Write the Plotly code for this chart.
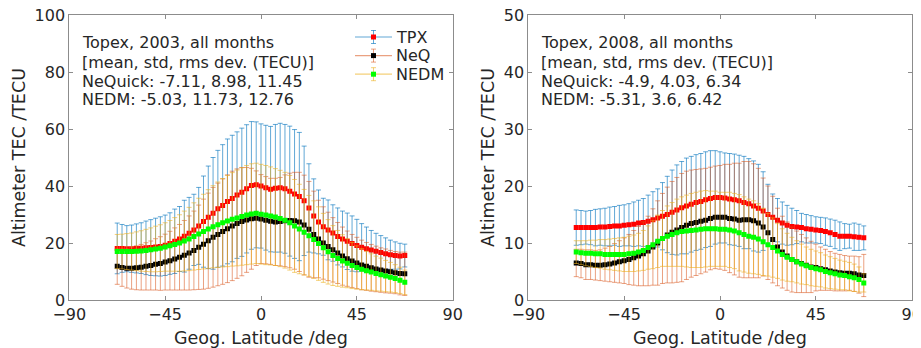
import plotly.graph_objects as go

# Latitude grid (deg)
lat = [-67.5, -65.25, -63, -60.75, -58.5, -56.25, -54, -51.75, -49.5, -47.25,
       -45, -42.75, -40.5, -38.25, -36, -33.75, -31.5, -29.25, -27, -24.75,
       -22.5, -20.25, -18, -15.75, -13.5, -11.25, -9, -6.75, -4.5, -2.25,
       0, 2.25, 4.5, 6.75, 9, 11.25, 13.5, 15.75, 18, 20.25,
       22.5, 24.75, 27, 29.25, 31.5, 33.75, 36, 38.25, 40.5, 42.75,
       45, 47.25, 49.5, 51.75, 54, 56.25, 58.5, 60.75, 63, 65.25, 67.5]

# ---------- 2003 ----------
tpx03_mean = [18.1, 18.1, 18.0, 18.0, 18.1, 18.2, 18.3, 18.4, 18.6, 18.8,
              19.2, 19.8, 20.6, 21.4, 22.4, 23.4, 24.6, 26.0, 27.5, 29.0,
              30.4, 32.0, 33.2, 34.6, 35.6, 36.8, 37.8, 39.0, 40.2, 40.4,
              40.0, 39.4, 38.9, 39.2, 39.4, 39.0, 38.2, 37.2, 36.3, 34.8,
              32.3, 29.5, 27.4, 25.7, 24.6, 23.5, 22.3, 21.4, 20.6, 19.8,
              19.1, 18.5, 18.0, 17.5, 17.1, 16.7, 16.2, 15.9, 15.6, 15.4, 15.6]
tpx03_std = [8.9, 8.4, 8.1, 8.3, 8.6, 8.9, 9.4, 9.8, 10.1, 10.4,
             10.6, 10.8, 11.3, 11.4, 12.6, 12.6, 12.5, 13.5, 16.0, 18.0,
             19.6, 20.5, 21.3, 21.9, 22.2, 22.2, 22.5, 22.5, 22.4, 22.1,
             21.8, 21.9, 22.0, 22.4, 22.6, 22.6, 22.8, 22.6, 22.5, 19.2,
             15.5, 13.0, 11.2, 10.0, 10.5, 9.9, 10.0, 9.8, 9.9, 9.7,
             9.2, 8.3, 7.6, 6.9, 6.3, 5.9, 5.6, 5.1, 4.8, 4.5, 4.0]
neq03_mean = [11.8, 11.4, 11.1, 11.1, 11.3, 11.5, 11.8, 12.1, 12.5, 12.8,
              13.3, 13.8, 14.4, 15.0, 15.7, 16.5, 17.4, 18.5, 19.6, 20.8,
              22.0, 23.0, 24.0, 25.0, 26.0, 26.8, 27.5, 28.1, 28.5, 28.7,
              28.4, 28.0, 27.6, 27.4, 27.5, 27.8, 27.9, 27.8, 27.4, 26.3,
              24.8, 23.0, 21.4, 20.0, 18.8, 17.6, 16.5, 15.4, 14.5, 13.7,
              13.0, 12.3, 11.8, 11.3, 10.9, 10.5, 10.2, 9.9, 9.6, 9.3, 9.2]
neq03_std = [6.3, 6.6, 6.9, 7.3, 7.7, 8.0, 8.3, 8.6, 9.0, 9.4,
             9.8, 10.3, 10.9, 11.5, 12.2, 13.0, 13.8, 14.8, 15.8, 16.7,
             17.5, 18.0, 18.5, 18.9, 19.2, 19.2, 19.0, 18.4, 17.7, 16.6,
             15.6, 15.3, 15.1, 15.3, 15.5, 16.1, 16.6, 17.0, 17.4, 17.5,
             16.8, 15.2, 13.6, 12.7, 12.0, 11.3, 10.7, 10.2, 9.7, 9.3,
             9.0, 8.7, 8.4, 8.2, 8.0, 7.8, 7.7, 7.5, 7.4, 7.5, 7.6]
nedm03_mean = [17.0, 17.0, 17.0, 17.0, 17.1, 17.2, 17.4, 17.6, 17.9, 18.2,
               18.6, 19.0, 19.5, 20.0, 20.7, 21.4, 22.3, 23.2, 24.0, 24.9,
               25.7, 26.4, 27.1, 27.7, 28.3, 28.8, 29.3, 29.8, 30.2, 30.4,
               30.1, 29.8, 29.5, 29.1, 28.6, 28.0, 27.1, 26.0, 24.9, 23.8,
               22.5, 21.2, 19.8, 18.3, 16.9, 15.6, 14.6, 13.7, 12.9, 12.1,
               11.4, 10.8, 10.3, 9.8, 9.3, 8.9, 8.4, 8.0, 7.5, 6.9, 6.2]
nedm03_std = [6.0, 6.1, 6.3, 6.5, 6.8, 7.1, 7.4, 7.7, 8.0, 8.2,
              8.5, 8.9, 9.4, 9.9, 10.5, 11.1, 11.8, 12.5, 13.1, 13.8,
              14.4, 15.0, 15.5, 16.0, 16.4, 16.8, 17.1, 17.4, 17.6, 17.6,
              17.5, 17.4, 17.2, 17.0, 16.9, 16.8, 16.6, 16.3, 15.7, 15.0,
              14.2, 13.6, 12.9, 12.1, 11.3, 10.5, 9.8, 9.2, 8.6, 8.1,
              7.6, 7.2, 6.8, 6.4, 6.1, 5.8, 5.5, 5.2, 4.9, 4.6, 4.3]

# ---------- 2008 ----------
tpx08_mean = [12.7, 12.7, 12.7, 12.7, 12.7, 12.8, 12.8, 12.9, 13.0, 13.0,
              13.1, 13.2, 13.3, 13.5, 13.6, 13.8, 14.1, 14.4, 14.7, 15.0,
              15.4, 15.8, 16.2, 16.5, 16.8, 17.1, 17.3, 17.6, 17.8, 18.0,
              18.0, 17.9, 17.7, 17.6, 17.4, 17.1, 16.9, 16.5, 16.1, 15.6,
              15.0, 14.5, 14.0, 13.5, 13.1, 12.9, 12.8, 12.7, 12.5, 12.4,
              12.3, 12.2, 12.0, 11.8, 11.5, 11.2, 11.2, 11.2, 11.1, 11.0, 10.9]
tpx08_std = [3.1, 3.0, 2.9, 3.0, 3.2, 3.2, 3.3, 3.4, 3.4, 3.6,
             3.6, 3.7, 3.9, 4.0, 4.2, 4.6, 4.9, 5.1, 5.9, 6.7,
             7.4, 7.9, 8.1, 8.4, 8.4, 8.4, 8.4, 8.4, 8.4, 8.2,
             8.0, 7.9, 8.0, 8.0, 8.0, 8.1, 7.9, 7.9, 7.7, 6.9,
             5.3, 4.1, 3.8, 3.7, 3.5, 3.2, 2.9, 2.5, 2.5, 2.4,
             2.3, 2.3, 2.4, 2.4, 2.5, 2.5, 2.2, 2.1, 2.4, 2.3, 2.1]
neq08_mean = [6.5, 6.4, 6.2, 6.2, 6.1, 6.1, 6.2, 6.3, 6.5, 6.7,
              6.9, 7.1, 7.4, 7.7, 8.1, 8.6, 9.3, 10.0, 10.8, 11.4,
              11.9, 12.3, 12.7, 13.1, 13.4, 13.6, 13.8, 14.0, 14.3, 14.5,
              14.5, 14.5, 14.3, 14.2, 14.0, 14.1, 14.1, 13.9, 13.5, 12.8,
              11.8, 10.6, 9.3, 8.4, 7.7, 7.1, 6.7, 6.4, 6.1, 5.8,
              5.7, 5.5, 5.3, 5.1, 4.9, 4.8, 4.7, 4.7, 4.6, 4.4, 4.3]
neq08_std = [2.4, 2.5, 2.6, 2.6, 2.6, 2.7, 2.9, 3.1, 3.4, 3.7,
             4.0, 4.4, 4.8, 5.2, 5.6, 6.1, 6.7, 7.4, 7.9, 8.4,
             8.9, 9.2, 9.5, 9.5, 9.4, 9.3, 9.2, 9.1, 9.0, 9.0,
             9.1, 9.3, 9.5, 9.8, 10.0, 10.2, 10.2, 10.0, 9.6, 8.6,
             8.2, 7.6, 6.8, 6.3, 6.0, 5.7, 5.4, 5.1, 4.8, 4.5,
             4.1, 3.8, 3.6, 3.4, 3.3, 3.2, 3.1, 3.0, 3.1, 3.2, 3.7]
nedm08_mean = [8.4, 8.3, 8.2, 8.2, 8.1, 8.1, 8.0, 8.0, 8.0, 8.0,
               8.0, 8.1, 8.2, 8.4, 8.7, 9.2, 9.7, 10.3, 10.8, 11.2,
               11.5, 11.8, 12.0, 12.1, 12.2, 12.3, 12.4, 12.5, 12.5, 12.5,
               12.4, 12.4, 12.3, 12.1, 11.8, 11.5, 11.2, 11.0, 10.7, 10.2,
               9.7, 9.2, 8.6, 8.0, 7.5, 7.1, 6.7, 6.3, 6.0, 5.7,
               5.5, 5.3, 5.0, 4.8, 4.6, 4.4, 4.3, 4.1, 3.9, 3.6, 3.0]
nedm08_std = [2.0, 2.1, 2.2, 2.3, 2.4, 2.5, 2.6, 2.7, 2.8, 2.9,
              3.0, 3.1, 3.2, 3.3, 3.5, 3.8, 4.2, 4.6, 4.9, 5.3,
              5.6, 5.9, 6.1, 6.3, 6.5, 6.6, 6.7, 6.7, 6.6, 6.6,
              6.5, 6.5, 6.6, 6.6, 6.7, 6.6, 6.5, 6.4, 6.2, 5.9,
              5.5, 5.2, 4.8, 4.5, 4.2, 3.9, 3.7, 3.5, 3.3, 3.2,
              3.1, 3.0, 2.9, 2.8, 2.7, 2.6, 2.5, 2.5, 2.4, 2.2, 1.6]

series_names = ["TPX", "NeQ", "NEDM"]
bar_colors = ["rgba(0,114,189,0.62)", "rgba(217,83,25,0.55)", "rgba(237,177,32,0.6)"]
marker_colors = ["#ff0000", "#000000", "#00ff00"]

panels = [
    dict(means=[tpx03_mean, neq03_mean, nedm03_mean], stds=[tpx03_std, neq03_std, nedm03_std],
         xa="x", ya="y",
         text=["Topex, 2003, all months", "[mean, std, rms dev. (TECU)]",
               "NeQuick: -7.11, 8.98, 11.45", "NEDM: -5.03, 11.73, 12.76"]),
    dict(means=[tpx08_mean, neq08_mean, nedm08_mean], stds=[tpx08_std, neq08_std, nedm08_std],
         xa="x2", ya="y2",
         text=["Topex, 2008, all months", "[mean, std, rms dev. (TECU)]",
               "NeQuick: -4.9, 4.03, 6.34", "NEDM: -5.31, 3.6, 6.42"]),
]

FONT = "DejaVu Sans"
TXT = "#262626"
AX = "#8c8c8c"

fig = go.Figure()
for p in panels:
    for k in range(3):
        fig.add_trace(go.Scatter(
            x=lat, y=p["means"][k], mode="markers", xaxis=p["xa"], yaxis=p["ya"],
            marker=dict(symbol="square", size=5, color=marker_colors[k], line=dict(width=0)),
            error_y=dict(type="data", array=p["stds"][k], visible=True,
                         color=bar_colors[k], thickness=1, width=2.5),
            showlegend=False, name=series_names[k], hoverinfo="skip"))

# The page body has an 8px margin; the figure is sized/placed to compensate.
OFF = 8
W, H = 921 - OFF, 348 - OFF
def px(x):  # screen x -> paper
    return (x - OFF) / W
def py(y):  # screen y -> paper
    return 1 - (y - OFF) / H

axis_common = dict(showline=True, linecolor=AX, linewidth=1, mirror="ticks",
                   ticks="inside", ticklen=4, tickcolor=AX, showgrid=False, zeroline=False,
                   automargin=False, ticklabeloverflow="allow",
                   tickfont=dict(family=FONT, size=16, color=TXT))

fig.update_layout(
    template="none",
    width=W, height=H, margin=dict(l=0, r=0, t=0, b=0, pad=0),
    paper_bgcolor="white", plot_bgcolor="white",
    font=dict(family=FONT, color=TXT),
    showlegend=False,
    xaxis=dict(domain=[px(69.3), px(452.7)], range=[-90, 90], tickvals=[-90, -45, 0, 45, 90],
               anchor="y", **axis_common),
    yaxis=dict(domain=[py(300), py(15)], range=[0, 100], tickvals=[0, 20, 40, 60, 80, 100],
               anchor="x", **axis_common),
    xaxis2=dict(domain=[px(528.3), px(911.7)], range=[-90, 90], tickvals=[-90, -45, 0, 45, 90],
                anchor="y2", **axis_common),
    yaxis2=dict(domain=[py(300), py(15)], range=[0, 50], tickvals=[0, 10, 20, 30, 40, 50],
                anchor="x2", **axis_common),
)

anns = []
shapes = []
for p, x0, xc, yt_x in [(panels[0], 80, 261, 19), (panels[1], 539, 720, 488)]:
    for i, t in enumerate(p["text"]):
        anns.append(dict(text=t, x=px(x0), y=py(43 + 19 * i), xref="paper", yref="paper",
                         xanchor="left", yanchor="middle", showarrow=False,
                         font=dict(family=FONT, size=16, color=TXT)))
    anns.append(dict(text="Geog. Latitude /deg", x=px(xc), y=py(338), xref="paper", yref="paper",
                     xanchor="center", yanchor="middle", showarrow=False,
                     font=dict(family=FONT, size=17.5, color=TXT)))
    anns.append(dict(text="Altimeter TEC /TECU", x=px(yt_x), y=py(158), xref="paper", yref="paper",
                     xanchor="center", yanchor="middle", showarrow=False, textangle=-90,
                     font=dict(family=FONT, size=17.5, color=TXT)))

# legend (error-bar style symbols), top right of the left panel
for k, name in enumerate(series_names):
    yc = 37 + 18.6 * k
    xl, xr, xm = 355, 392, 373.5
    shapes.append(dict(type="line", xref="paper", yref="paper", x0=px(xl), x1=px(xr),
                       y0=py(yc), y1=py(yc), line=dict(color=bar_colors[k], width=1.2)))
    shapes.append(dict(type="line", xref="paper", yref="paper", x0=px(xm), x1=px(xm),
                       y0=py(yc - 6.5), y1=py(yc + 6.5), line=dict(color=bar_colors[k], width=1)))
    for dy in (-6.5, 6.5):
        shapes.append(dict(type="line", xref="paper", yref="paper", x0=px(xm - 2.5), x1=px(xm + 2.5),
                           y0=py(yc + dy), y1=py(yc + dy), line=dict(color=bar_colors[k], width=1)))
    shapes.append(dict(type="rect", xref="paper", yref="paper", x0=px(xm - 2.5), x1=px(xm + 2.5),
                       y0=py(yc - 2.5), y1=py(yc + 2.5), fillcolor=marker_colors[k],
                       line=dict(width=0)))
    anns.append(dict(text=name, x=px(394), y=py(yc), xref="paper", yref="paper",
                     xanchor="left", yanchor="middle", showarrow=False,
                     font=dict(family=FONT, size=16, color=TXT)))

fig.update_layout(annotations=anns, shapes=shapes)

fig.write_html("out.html")
